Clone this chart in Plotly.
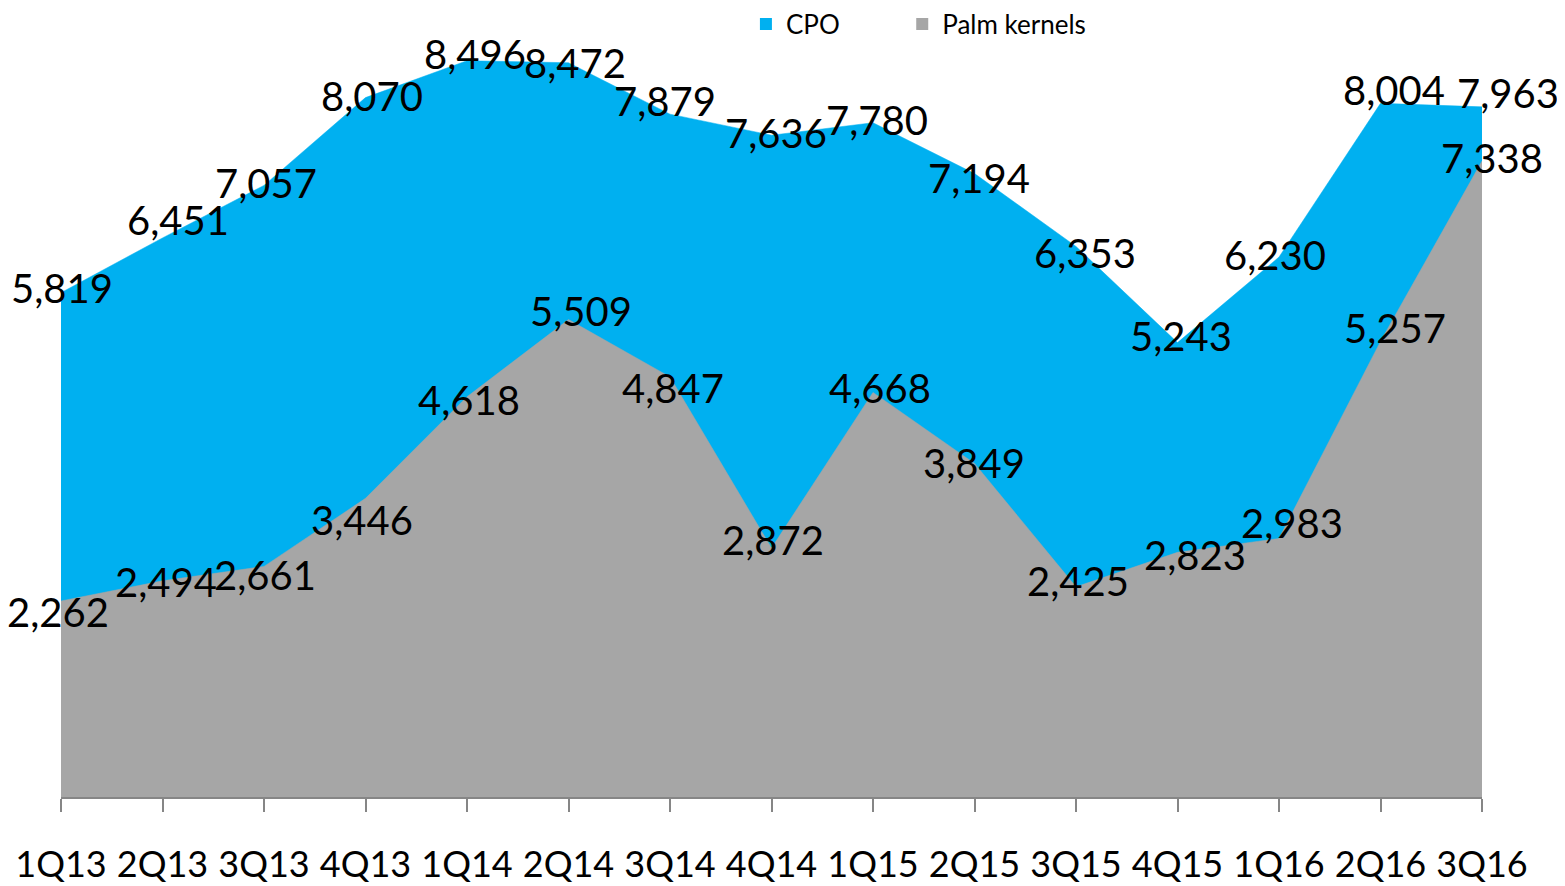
import plotly.graph_objects as go

quarters = ["1Q13", "2Q13", "3Q13", "4Q13", "1Q14", "2Q14", "3Q14", "4Q14",
            "1Q15", "2Q15", "3Q15", "4Q15", "1Q16", "2Q16", "3Q16"]
cpo = [5819, 6451, 7057, 8070, 8496, 8472, 7879, 7636, 7780, 7194, 6353, 5243, 6230, 8004, 7963]
palm_kernels = [2262, 2494, 2661, 3446, 4618, 5509, 4847, 2872, 4668, 3849, 2425, 2823, 2983, 5257, 7338]

# label nudges in pixels (dx right, dy down), as placed in the original chart
cpo_label_dx = [1, 15, 2, 6, 8, 6, -5, 4, 4, 4, 9, 3, -4, 13, 26]
cpo_label_dy = [-5, -18, -2, -2, -7, 0, -13, -2, -3, 4, 7, -7, -2, -13, -14]
pk_label_dx = [-3, 3, 1, -4, 2, 12, 3, 1, 7, -1, 2, 17, 13, 14, 10]
pk_label_dy = [11, 1, 9, 22, 3, -9, 11, -8, -4, 0, -6, 3, -15, -13, -3]

CPO_COLOR = "#00B0F0"
PK_COLOR = "#A6A6A6"
FONT = "Lato"

x = list(range(len(quarters)))

fig = go.Figure()
fig.add_trace(go.Scatter(x=x, y=cpo, mode="lines", fill="tozeroy",
                         line=dict(color=CPO_COLOR, width=0.5), fillcolor=CPO_COLOR,
                         showlegend=False, hoverinfo="skip"))
fig.add_trace(go.Scatter(x=x, y=palm_kernels, mode="lines", fill="tozeroy",
                         line=dict(color=PK_COLOR, width=0.5), fillcolor=PK_COLOR,
                         showlegend=False, hoverinfo="skip"))

# legend entries
for name, col, lg in (("CPO", CPO_COLOR, "legend"), ("Palm kernels", PK_COLOR, "legend2")):
    fig.add_trace(go.Scatter(x=[None], y=[None], mode="markers", name=name, legend=lg,
                             marker=dict(symbol="square", size=15, color=col)))

# data labels
for vals, dxs, dys in ((cpo, cpo_label_dx, cpo_label_dy),
                       (palm_kernels, pk_label_dx, pk_label_dy)):
    for xi, v, dx, dy in zip(x, vals, dxs, dys):
        fig.add_annotation(x=xi, y=v, xref="x", yref="y", text=f"{v:,}",
                           showarrow=False, xanchor="center", yanchor="middle",
                           xshift=dx, yshift=-dy,
                           font=dict(family=FONT, size=40, color="#000000"))

legend_common = dict(orientation="h", y=0.991, yanchor="middle", xanchor="left",
                     font=dict(family=FONT, size=26, color="#000000"),
                     bgcolor="rgba(0,0,0,0)", itemsizing="constant")

# page body has an 8px default margin, so the figure is 8px smaller than the window
fig.update_layout(
    width=1557, height=878,
    margin=dict(l=53, r=83, t=9, b=89, autoexpand=False),
    plot_bgcolor="white", paper_bgcolor="white",
    font=dict(family=FONT, color="#000000"),
    legend=dict(x=0.482, **legend_common),
    legend2=dict(x=0.592, **legend_common),
    xaxis=dict(range=[0, 14], tickmode="array", tickvals=x, ticktext=quarters,
               showgrid=False, zeroline=False, showline=True, linecolor="#868686",
               linewidth=2, ticks="outside", ticklen=13, tickwidth=2, tickcolor="#868686",
               tickfont=dict(family=FONT, size=36, color="#000000"),
               ticklabelstandoff=22, automargin=False),
    yaxis=dict(range=[0, 9000], visible=False, showgrid=False, zeroline=False,
               automargin=False),
)

fig.write_html("out.html")
